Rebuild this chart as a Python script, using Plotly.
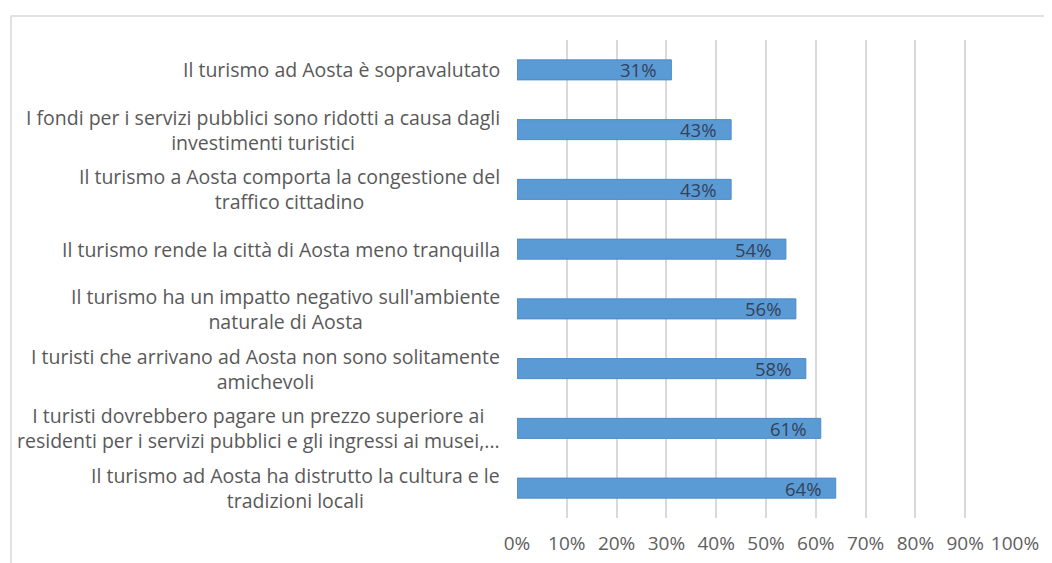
import plotly.graph_objects as go

categories = [
    "Il turismo ad Aosta è sopravalutato",
    "I fondi per i servizi pubblici sono ridotti a causa dagli<br>investimenti turistici",
    "Il turismo a Aosta comporta la congestione del<br>traffico cittadino",
    "Il turismo rende la città di Aosta meno tranquilla",
    "Il turismo ha un impatto negativo sull'ambiente<br>naturale di Aosta",
    "I turisti che arrivano ad Aosta non sono solitamente<br>amichevoli",
    "I turisti dovrebbero pagare un prezzo superiore ai<br>residenti per i servizi pubblici e gli ingressi ai musei,...",
    "Il turismo ad Aosta ha distrutto la cultura e le<br>tradizioni locali",
]
values = [0.31, 0.43, 0.43, 0.54, 0.56, 0.58, 0.61, 0.64]
tick_vals = [i / 10 for i in range(11)]
tick_text = [f"{i*10}%" for i in range(11)]

W, H = 1052, 563
OFF = 8  # page body margin
L, T = 517 - OFF, 40 - OFF
pw, ph = 498, 478
R, B = W - L - pw, H - T - ph

fig = go.Figure()
fig.add_trace(go.Bar(
    x=values, y=categories, orientation="h",
    marker=dict(color="#5b9bd5", line=dict(color="#4f8cc6", width=1)),
    hoverinfo="skip",
))

font_fam = "'Open Sans', Lato, sans-serif"
for c, v in zip(categories, values):
    fig.add_annotation(x=v, y=c, xref="x", yref="y", text=f"{round(v*100)}%",
                       showarrow=False, xanchor="right", xshift=-13,
                       font=dict(family=font_fam, size=18.5, color="#34425a"))
    fig.add_annotation(x=0, y=c, xref="paper", yref="y", text=c,
                       showarrow=False, xanchor="right", align="center", xshift=-15,
                       font=dict(family=font_fam, size=19.5, color="#595959"))

# outer frame
fig.add_shape(type="rect", xref="paper", yref="paper",
              x0=(11 - OFF - L) / pw, x1=(W + 10 - L) / pw,
              y0=-(H + 10 - (T + ph)) / ph, y1=(T + ph - (16 - OFF)) / ph,
              line=dict(color="#d9d9d9", width=1.5), layer="below")

fig.update_layout(
    width=W, height=H,
    margin=dict(l=L, r=R, t=T, b=B, autoexpand=False),
    paper_bgcolor="white", plot_bgcolor="white",
    bargap=0.665, showlegend=False,
    xaxis=dict(range=[0, 1], tickvals=tick_vals, ticktext=tick_text,
               showgrid=True, gridcolor="#d9d9d9", gridwidth=1.5,
               zeroline=False, showline=False, ticks="", ticklabelstandoff=12,
               tickfont=dict(family=font_fam, size=19, color="#606060")),
    yaxis=dict(autorange="reversed", showticklabels=False, showgrid=False,
               zeroline=False, showline=False, ticks=""),
)
fig.write_html("out.html")
